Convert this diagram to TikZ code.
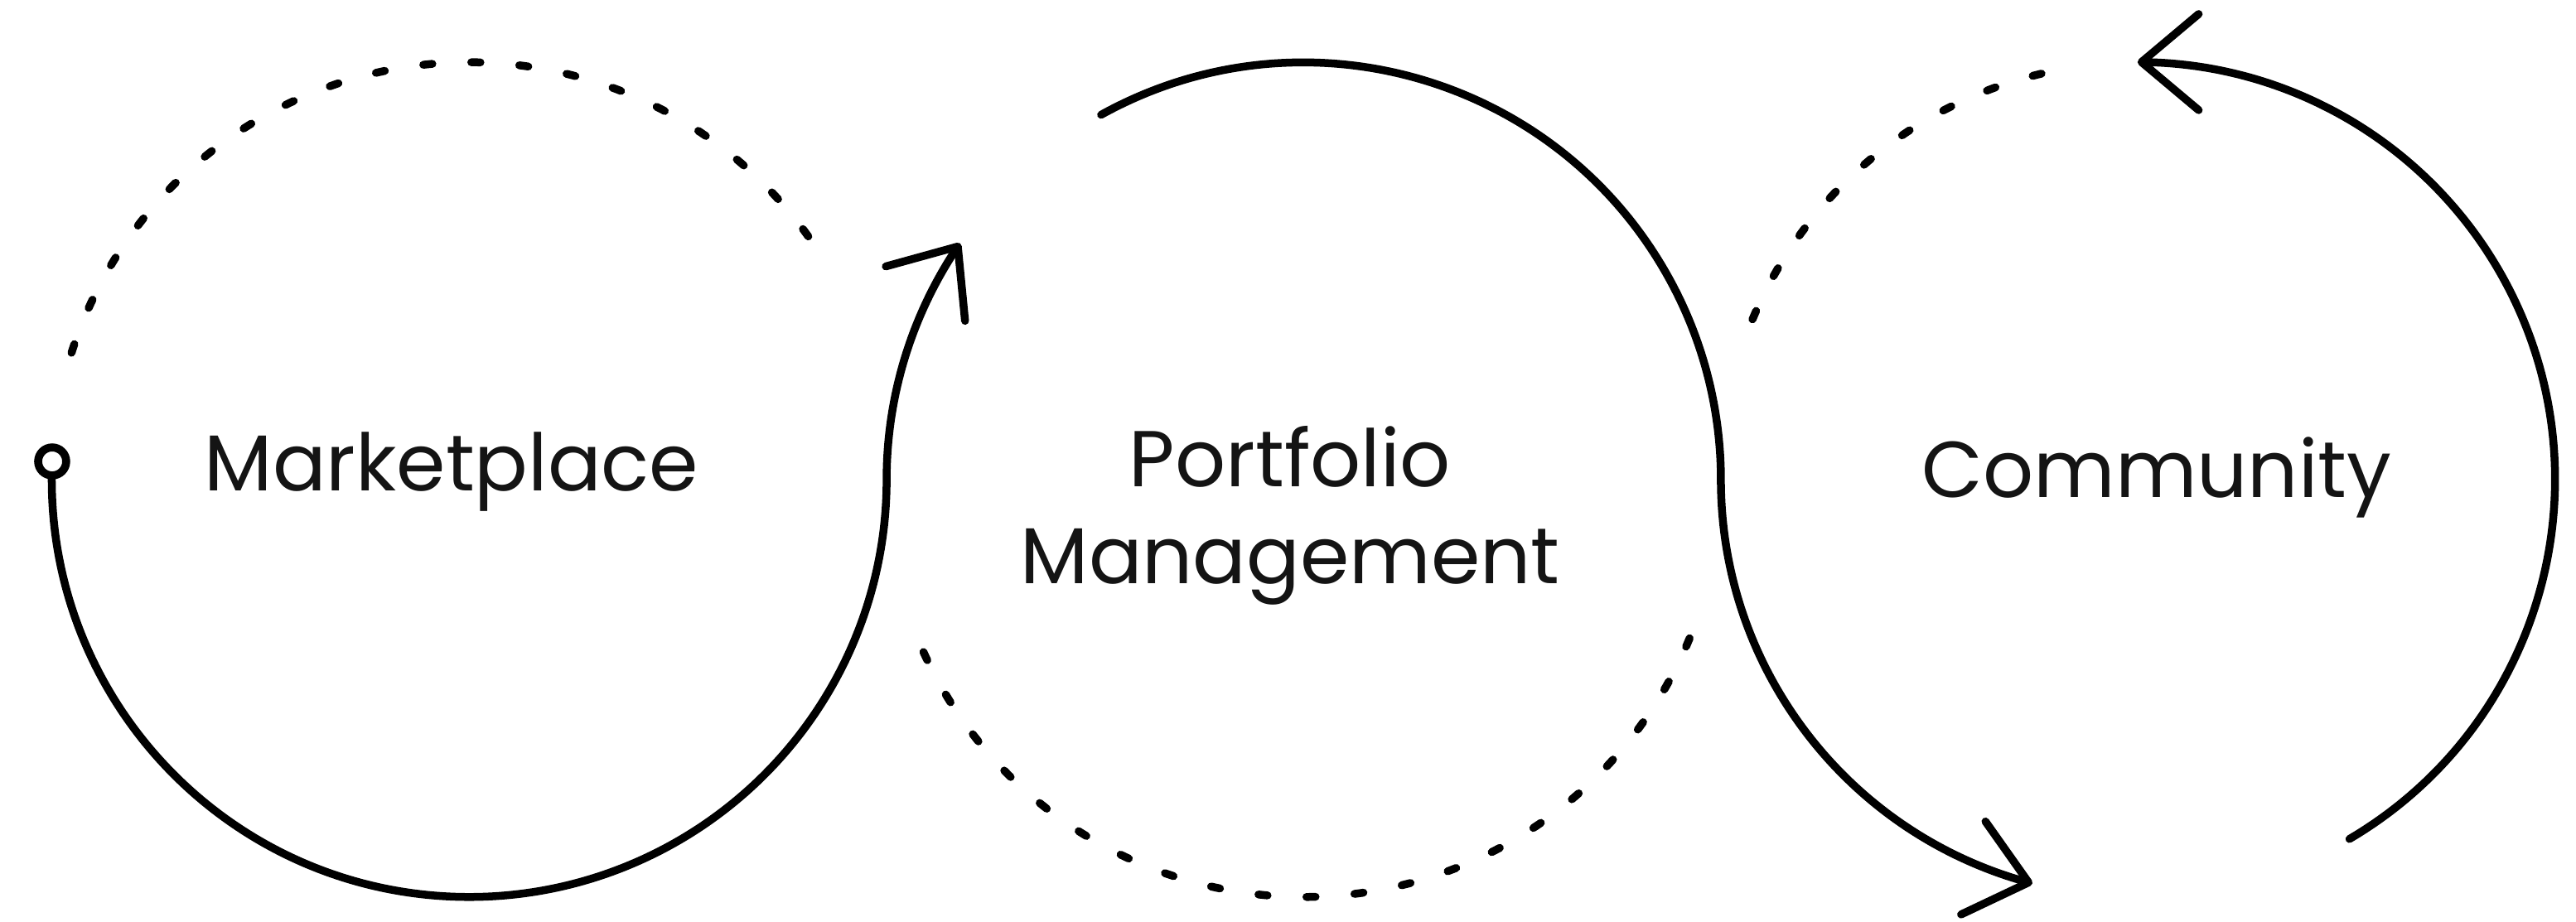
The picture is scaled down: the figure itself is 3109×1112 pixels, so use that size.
\documentclass[tikz,border=0pt]{standalone}
\usepackage{fontspec}
\setmainfont{Poppins}
\usetikzlibrary{arrows.meta,bending}
\definecolor{ink}{HTML}{000000}
\definecolor{txt}{HTML}{141414}
\begin{document}
\begin{tikzpicture}[x=0.01cm,y=0.01cm,
  stroke/.style={line width=0.095cm, line cap=round, line join=round, draw=ink},
  dotarc/.style={line width=0.095cm, line cap=round, draw=ink, dash pattern=on 0.11cm off 0.47cm},
  arrowend/.style={-{Straight Barb[length=0.69cm,width=1.16cm,round,flex]}},
  txtlabel/.style={font=\fontsize{27.2pt}{33.4pt}\selectfont, text=txt, inner sep=0pt, anchor=base, align=center},
  ring/.style={circle, draw=ink, fill=white, line width=0.097cm, inner sep=0pt, minimum size=0.338cm}
]
\useasboundingbox (0,0) rectangle (3109,1112);

% circle centres
\coordinate (A) at (566,533);
\coordinate (B) at (1573,533);
\coordinate (C) at (2580,533);

% start points
\coordinate (s) at (62.98,554.96);
\coordinate (m) at (1328.9,973.4);
\coordinate (c) at (2835.5,99.2);
\coordinate (d1) at (86.3,686.1);
\coordinate (d2) at (1114.5,325.0);
\coordinate (d3) at (2115.1,726.5);

% dotted arcs
\draw[dotarc] (d1) arc[start angle=162.3, end angle=35.6, radius=5.035cm];
\draw[dotarc] (d2) arc[start angle=204.4, end angle=337.7, radius=5.035cm];
\draw[dotarc] (d3) arc[start angle=157.4, end angle=103.1, radius=5.035cm];

% solid arcs with arrows
\draw[stroke, arrowend] (s) arc[start angle=177.5, end angle=360, radius=5.035cm]
   arc[start angle=180, end angle=145.5, radius=5.035cm];
\draw[stroke, arrowend] (m) arc[start angle=119, end angle=0, radius=5.035cm]
   arc[start angle=180, end angle=255.3, radius=5.035cm];
\draw[stroke, arrowend] (c) arc[start angle=-59.5, end angle=90, radius=5.035cm];

% start ring
\node[ring] (startring) at (s) {};

% labels
\node[txtlabel] (market) at (545,519) {Marketplace};
\node[txtlabel] (portfolio) at (1557,407) {Portfolio\\Management};
\node[txtlabel] (community) at (2603,511) {Community};
\end{tikzpicture}
\end{document}
